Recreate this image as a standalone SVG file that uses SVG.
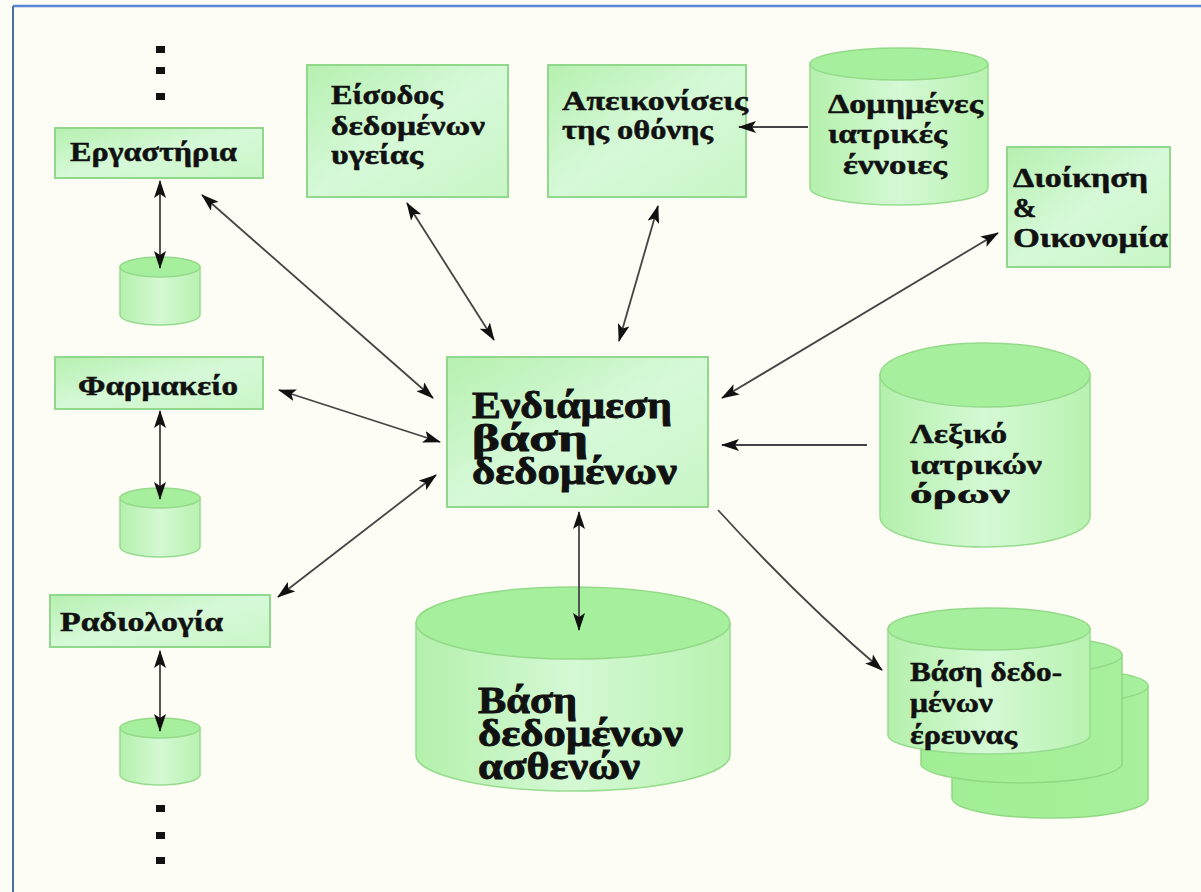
<svg xmlns="http://www.w3.org/2000/svg" width="1201" height="892" viewBox="0 0 1201 892">
<defs>
<linearGradient id="boxg" x1="0" y1="0" x2="1" y2="1">
<stop offset="0" stop-color="#b6f0b0"/>
<stop offset="0.5" stop-color="#d6f9d8"/>
<stop offset="1" stop-color="#c8f6c6"/>
</linearGradient>
<linearGradient id="cylg" x1="0" y1="0" x2="1" y2="0">
<stop offset="0" stop-color="#b4f0ac"/>
<stop offset="0.5" stop-color="#d4f9d4"/>
<stop offset="1" stop-color="#b8f2b0"/>
</linearGradient>
<linearGradient id="cylg2" x1="0" y1="0" x2="1" y2="0">
<stop offset="0" stop-color="#a2ee96"/>
<stop offset="1" stop-color="#a8f09c"/>
</linearGradient>
<marker id="ah" viewBox="0 0 18 12" refX="17" refY="6" markerWidth="18" markerHeight="12" markerUnits="userSpaceOnUse" orient="auto-start-reverse">
<path d="M0,0 L18,6 L0,12 L4,6 Z" fill="#111"/>
</marker>
<style>
.box{fill:url(#boxg);stroke:#92d88c;stroke-width:2}
.cyl{fill:url(#cylg);stroke:#98dc90;stroke-width:1.5}
.cyl2{fill:url(#cylg2);stroke:#90d884;stroke-width:1.5}
.top{fill:#a6ef9c;stroke:#94da8a;stroke-width:1.5}
.t{font-family:"Liberation Serif","DejaVu Serif",serif;font-weight:bold;fill:#111;stroke:#111;stroke-width:0.5}
.s{font-size:28px}
.b{font-size:38px;stroke-width:0.9}
.c{stroke:#444;stroke-width:1.8;fill:none}
.a2{marker-start:url(#ah);marker-end:url(#ah)}
.a1{marker-end:url(#ah)}
.dot{fill:#111}
</style>
</defs>
<rect x="0" y="0" width="1201" height="892" fill="#fdfdf5"/>
<line x1="13" y1="6" x2="1201" y2="6" stroke="#5a86d4" stroke-width="2.5"/>
<line x1="13" y1="6" x2="13" y2="892" stroke="#4c6fa8" stroke-width="2"/>

<g id="dots-top">
<rect class="dot" x="156" y="46" width="9" height="7"/>
<rect class="dot" x="156" y="67" width="9" height="7"/>
<rect class="dot" x="156" y="93" width="9" height="7"/>
</g>
<g id="dots-bottom">
<rect class="dot" x="156" y="805" width="9" height="7"/>
<rect class="dot" x="156" y="832" width="9" height="7"/>
<rect class="dot" x="156" y="857" width="9" height="7"/>
</g>

<g id="lab">
<rect class="box" x="55" y="128" width="208" height="50"/>
<text class="t s" x="70" y="161" textLength="167" lengthAdjust="spacingAndGlyphs">Εργαστήρια</text>
</g>
<g id="lab-db">
<path class="cyl" d="M120,267 L120,315 A40,10 0 0 0 200,315 L200,267 Z"/>
<ellipse class="top" cx="160" cy="267" rx="40" ry="10"/>
</g>

<g id="pharmacy">
<rect class="box" x="55" y="357" width="208" height="52"/>
<text class="t s" x="78" y="395" textLength="160" lengthAdjust="spacingAndGlyphs">Φαρμακείο</text>
</g>
<g id="pharmacy-db">
<path class="cyl" d="M120,498 L120,547 A40,10 0 0 0 200,547 L200,498 Z"/>
<ellipse class="top" cx="160" cy="498" rx="40" ry="10"/>
</g>

<g id="radiology">
<rect class="box" x="50" y="595" width="220" height="52"/>
<text class="t s" x="60" y="631" textLength="163" lengthAdjust="spacingAndGlyphs">Ραδιολογία</text>
</g>
<g id="radiology-db">
<path class="cyl" d="M120,728 L120,775 A40,10 0 0 0 200,775 L200,728 Z"/>
<ellipse class="top" cx="160" cy="728" rx="40" ry="10"/>
</g>

<g id="health-input">
<rect class="box" x="307" y="65" width="201" height="132"/>
<text class="t s" x="331" y="104" textLength="112" lengthAdjust="spacingAndGlyphs">Είσοδος</text>
<text class="t s" x="331" y="135" textLength="154" lengthAdjust="spacingAndGlyphs">δεδομένων</text>
<text class="t s" x="331" y="164" textLength="92" lengthAdjust="spacingAndGlyphs">υγείας</text>
</g>

<g id="screen">
<rect class="box" x="548" y="65" width="198" height="132"/>
<text class="t s" x="562" y="110" textLength="186" lengthAdjust="spacingAndGlyphs">Απεικονίσεις</text>
<text class="t s" x="562" y="139" textLength="151" lengthAdjust="spacingAndGlyphs">της οθόνης</text>
</g>

<g id="concepts">
<path class="cyl" d="M810,64 L810,188 A89,17 0 0 0 988,188 L988,64 Z"/>
<ellipse class="top" cx="899" cy="64" rx="89" ry="16"/>
<text class="t s" x="828" y="113" textLength="155" lengthAdjust="spacingAndGlyphs">Δομημένες</text>
<text class="t s" x="828" y="143" textLength="119" lengthAdjust="spacingAndGlyphs">ιατρικές</text>
<text class="t s" x="843" y="174" textLength="104" lengthAdjust="spacingAndGlyphs">έννοιες</text>
</g>

<g id="admin">
<rect class="box" x="1007" y="147" width="163" height="120"/>
<text class="t s" x="1013" y="187" textLength="135" lengthAdjust="spacingAndGlyphs">Διοίκηση</text>
<text class="t s" x="1013" y="217">&amp;</text>
<text class="t s" x="1013" y="247" textLength="155" lengthAdjust="spacingAndGlyphs">Οικονομία</text>
</g>

<g id="intermediate">
<rect class="box" x="447" y="357" width="261" height="150"/>
<text class="t b" x="472" y="418" textLength="200" lengthAdjust="spacingAndGlyphs">Ενδιάμεση</text>
<text class="t b" x="472" y="451" textLength="116" lengthAdjust="spacingAndGlyphs">βάση</text>
<text class="t b" x="472" y="484" textLength="205" lengthAdjust="spacingAndGlyphs">δεδομένων</text>
</g>

<g id="dictionary">
<path class="cyl" d="M880,375 L880,517 A105,30 0 0 0 1090,517 L1090,375 Z"/>
<ellipse class="top" cx="985" cy="375" rx="105" ry="32"/>
<text class="t s" x="910" y="443" textLength="97" lengthAdjust="spacingAndGlyphs">Λεξικό</text>
<text class="t s" x="910" y="474" textLength="132" lengthAdjust="spacingAndGlyphs">ιατρικών</text>
<text class="t s" x="910" y="503" textLength="100" lengthAdjust="spacingAndGlyphs">όρων</text>
</g>

<g id="patients-db">
<path class="cyl" d="M416,623 L416,755 A157,36 0 0 0 730,755 L730,623 Z"/>
<ellipse class="top" cx="573" cy="623" rx="157" ry="36"/>
<text class="t b" x="478" y="713" textLength="99" lengthAdjust="spacingAndGlyphs">Βάση</text>
<text class="t b" x="478" y="746" textLength="205" lengthAdjust="spacingAndGlyphs">δεδομένων</text>
<text class="t b" x="478" y="779" textLength="162" lengthAdjust="spacingAndGlyphs">ασθενών</text>
</g>

<g id="research-db">
<path class="cyl2" d="M952,686 L952,798 A98,20 0 0 0 1148,798 L1148,686 Z"/>
<ellipse class="top" cx="1050" cy="686" rx="98" ry="18"/>
<path class="cyl2" d="M921,655 L921,765 A101,20 0 0 0 1122,765 L1122,655 Z"/>
<ellipse class="top" cx="1021" cy="655" rx="101" ry="19"/>
<path class="cyl" d="M888,629 L888,735 A101,19 0 0 0 1090,735 L1090,629 Z"/>
<ellipse class="top" cx="989" cy="629" rx="101" ry="21"/>
<text class="t s" x="910" y="681" textLength="152" lengthAdjust="spacingAndGlyphs">Βάση δεδο-</text>
<text class="t s" x="910" y="712" textLength="83" lengthAdjust="spacingAndGlyphs">μένων</text>
<text class="t s" x="910" y="744" textLength="107" lengthAdjust="spacingAndGlyphs">έρευνας</text>
</g>

<g id="connectors">
<line class="c a2" x1="160" y1="181" x2="160" y2="268"/>
<line class="c a2" x1="160" y1="411" x2="160" y2="499"/>
<line class="c a2" x1="160" y1="651" x2="160" y2="731"/>
<line class="c a2" x1="202" y1="195" x2="433" y2="398"/>
<line class="c a2" x1="279" y1="390" x2="440" y2="442"/>
<line class="c a2" x1="278" y1="597" x2="436" y2="475"/>
<line class="c a2" x1="407" y1="203" x2="494" y2="340"/>
<line class="c a2" x1="658" y1="206" x2="619" y2="341"/>
<line class="c a2" x1="998" y1="233" x2="722" y2="398"/>
<line class="c a1" x1="867" y1="445" x2="722" y2="445"/>
<path class="c a1" d="M718,510 Q800,600 882,670"/>
<line class="c a2" x1="579" y1="512" x2="579" y2="630"/>
<line class="c a1" x1="808" y1="127" x2="739" y2="127"/>
</g>
</svg>
